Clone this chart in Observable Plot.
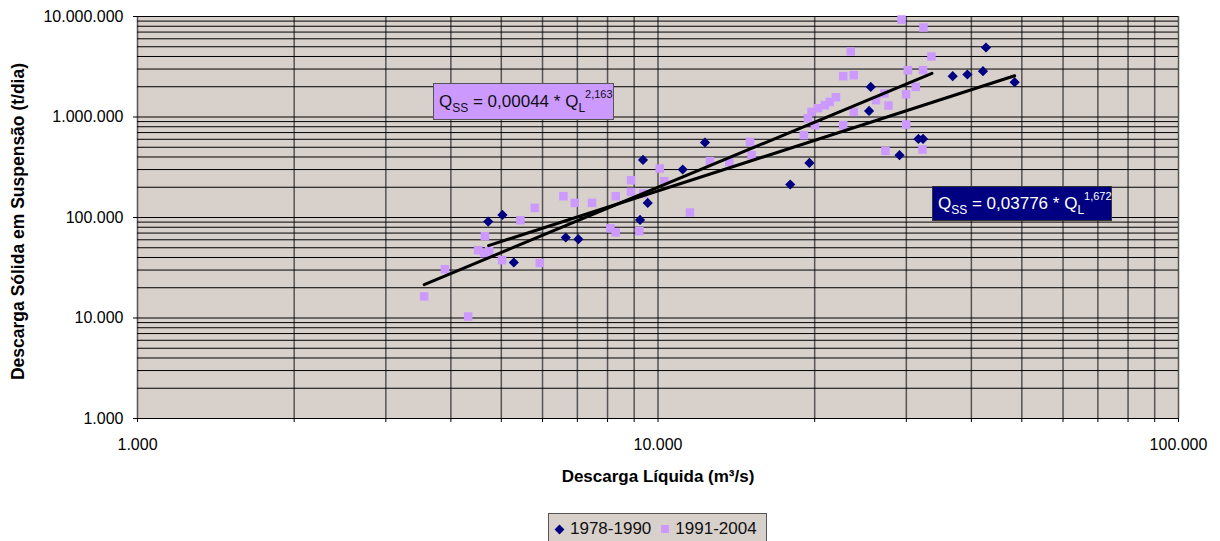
<!DOCTYPE html>
<html>
<head>
<meta charset="utf-8">
<script src="https://cdn.jsdelivr.net/npm/d3@7"></script>
<script src="https://cdn.jsdelivr.net/npm/@observablehq/plot@0.6"></script>
<style>
  html, body { margin: 0; padding: 0; background: #fff; }
  #wrap { position: relative; width: 1220px; height: 541px; overflow: hidden; font-family: "Liberation Sans", Arial, sans-serif; }
  #chart { position: absolute; left: 0; top: 0; }
  .eq { position: absolute; box-sizing: border-box; display: flex; align-items: center; font-size: 17px; white-space: nowrap; padding-left: 5px; }
  .eq sub { font-size: 12px; vertical-align: -5px; }
  .eq sup { font-size: 11px; vertical-align: 9px; }
  #eq1 { left: 433px; top: 83px; width: 181px; height: 37px; background: #cc99ff; border: 1.5px solid #555; color: #111; }
  #eq2 { left: 932px; top: 186px; width: 180px; height: 35px; background: #000080; border: 1.5px solid #333; color: #fff; }
  #legend { position: absolute; left: 548px; top: 513px; width: 219px; height: 34px; box-sizing: border-box; background: #d8d0cb; border: 1px solid #555; font-size: 17px; display: flex; align-items: flex-start; padding-top: 5px; padding-left: 7px; color: #111; }
  .sym { display: inline-block; width: 8px; height: 8px; margin-right: 6px; margin-top: 6px; }
  .dia { background: #000080; transform: rotate(45deg); width: 7px; height: 7px; margin-top: 7px; margin-left: 0px; margin-right: 7px; }
  .sq { background: #cc99ff; margin-left: 10px; }
</style>
</head>
<body>
<div id="wrap">
  <div id="chart"></div>
  <div id="eq1" class="eq"><span>Q<sub>SS</sub> = 0,00044 * Q<sub>L</sub><sup>2,163</sup></span></div>
  <div id="eq2" class="eq"><span>Q<sub>SS</sub> = 0,03776 * Q<sub>L</sub><sup>1,672</sup></span></div>
  <div id="legend"><span class="sym dia"></span><span>1978-1990</span><span class="sym sq"></span><span>1991-2004</span></div>
</div>
<script>
// ---- Data ----
const series = ["1978-1990", "1991-2004"];

// 1978-1990: liquid discharge (m³/s) and suspended solid discharge (t/dia)
const q7890 = [4718, 5025, 5284, 6650, 7031, 9237, 9555, 9358, 11155, 12310, 17950, 19540, 25440, 25630, 29110, 31650, 32300, 36830, 39300, 42110, 42670, 48440];
const s7890 = [91200, 106100, 35660, 63240, 60830, 94640, 139700, 374300, 300300, 557500, 213000, 349400, 1150000, 1993000, 416800, 605500, 605500, 2547000, 2648000, 2855000, 4915000, 2220000];

// 1991-2004
const q9104 = [3554, 3896, 4318, 4650, 4512, 4634, 4738, 5018, 5441, 5798, 5928, 6580, 6920, 7469, 8100, 8295, 8295, 8877, 8877, 9207, 9371, 10077, 10283, 11520, 12584, 13710, 15020, 15130, 19060, 19410, 19720, 20290, 20920, 21380, 21970, 20020, 22690, 23780, 23460, 22690, 23780, 26240, 27230, 27720, 27350, 29370, 29970, 30200, 29970, 31280, 32300, 32360, 33520, 32220];
const s9104 = [16400, 30600, 10350, 65200, 47280, 44140, 46200, 37600, 94000, 124600, 35300, 162900, 139700, 139700, 78000, 70900, 162900, 235000, 179800, 73100, 173300, 307300, 229700, 112100, 363300, 357500, 565000, 416800, 659000, 972900, 1124000, 1223000, 1310000, 1413000, 1574000, 828700, 2547000, 2606000, 4485000, 828700, 1124000, 1470000, 1713000, 1301000, 460000, 9335000, 1686000, 2922000, 842000, 1993000, 2922000, 7771000, 3999000, 474900];

// Power trend lines (end points as drawn)
const trend7890Q = [4724, 48440];
const trend7890S = [52500, 2570000];
const trend9104Q = [3555, 33600];
const trend9104S = [21500, 2720000];

// Axis ticks
const xMajor = [1000, 10000, 100000];
const xGrid = [1000, 2000, 3000, 4000, 5000, 6000, 7000, 8000, 9000,
               10000, 20000, 30000, 40000, 50000, 60000, 70000, 80000, 90000, 100000];
const yMajor = [1000, 10000, 100000, 1000000, 10000000];
const yGrid = [1000, 2000, 3000, 4000, 5000, 6000, 7000, 8000, 9000,
               10000, 20000, 30000, 40000, 50000, 60000, 70000, 80000, 90000,
               100000, 200000, 300000, 400000, 500000, 600000, 700000, 800000, 900000,
               1000000, 2000000, 3000000, 4000000, 5000000, 6000000, 7000000, 8000000, 9000000,
               10000000];

const xTitle = "Descarga Líquida (m³/s)";
const yTitle = "Descarga Sólida em Suspensão (t/dia)";

// ---- Build ----
const fmt = d3.formatLocale({decimal: ",", thousands: ".", grouping: [3], currency: ["", ""]}).format(",d");
const pts7890 = q7890.map((q, i) => ({q, s: s7890[i], series: series[0]}));
const pts9104 = q9104.map((q, i) => ({q, s: s9104[i], series: series[1]}));
const tr7890 = trend7890Q.map((q, i) => ({q, s: trend7890S[i]}));
const tr9104 = trend9104Q.map((q, i) => ({q, s: trend9104S[i]}));

const chart = Plot.plot({
  width: 1220,
  height: 500,
  marginTop: 16,
  marginBottom: 82,
  marginLeft: 137,
  marginRight: 42,
  style: {fontFamily: "'Liberation Sans', Arial, sans-serif", fontSize: "16px", background: "transparent", color: "#000"},
  x: {type: "log", domain: [1000, 100000]},
  y: {type: "log", domain: [1000, 10000000]},
  marks: [
    Plot.frame({fill: "#d8d0cb", stroke: "none"}),
    Plot.ruleX(xGrid, {stroke: "#555", strokeWidth: 1.5}),
    Plot.ruleY(yGrid, {stroke: "#000", strokeWidth: 1}),
    Plot.axisY({ticks: yMajor, tickFormat: fmt, tickSize: 4, tickPadding: 10, fontSize: 16, label: null}),
    Plot.axisX({ticks: xGrid, tickFormat: d => xMajor.includes(d) ? fmt(d) : "", tickSize: 4, tickPadding: 16, fontSize: 16, label: null}),
    Plot.dot(pts7890, {x: "q", y: "s", symbol: "diamond2", r: 4.6, fill: "#000080", stroke: "none"}),
    Plot.dot(pts9104, {x: "q", y: "s", symbol: "square", r: 4.8, fill: "#cc99ff", stroke: "none"}),
    Plot.line(tr9104, {x: "q", y: "s", stroke: "#000", strokeWidth: 3}),
    Plot.line(tr7890, {x: "q", y: "s", stroke: "#000", strokeWidth: 3}),
    Plot.text([xTitle], {text: d => d, frameAnchor: "bottom", dy: 63, fontWeight: "bold", fontSize: 17, letterSpacing: "1.7px"}),
    Plot.text([yTitle], {text: d => d, frameAnchor: "left", textAnchor: "middle", dx: -119, dy: 4, rotate: -90, fontWeight: "bold", fontSize: 17.5})
  ]
});
document.getElementById("chart").appendChild(chart);
</script>
</body>
</html>
